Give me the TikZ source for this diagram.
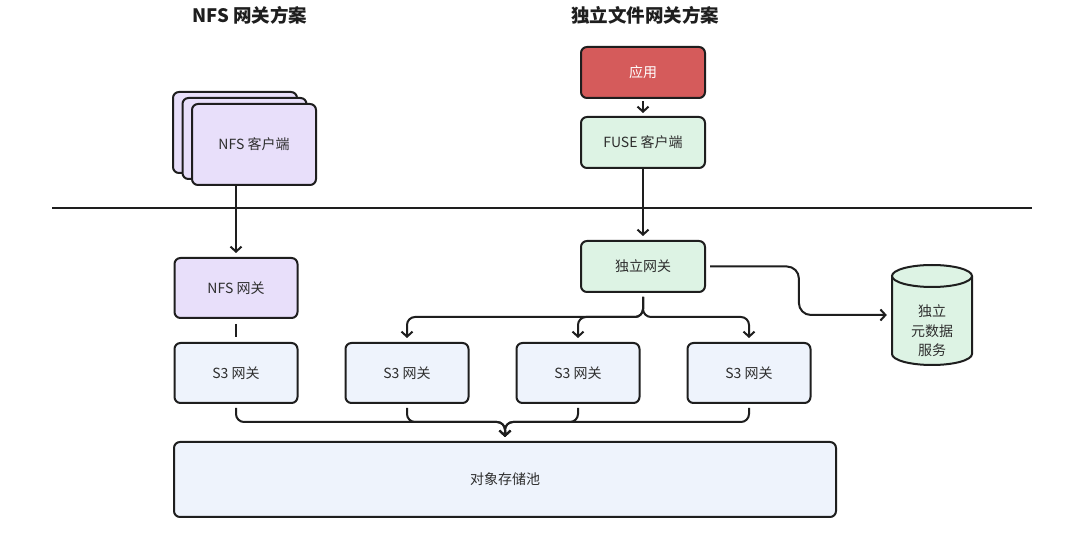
\documentclass[tikz,border=0pt]{standalone}
\usepackage{fontspec}
\setmainfont{Noto Sans CJK SC}
\usetikzlibrary{arrows.meta,calc}
\definecolor{ink}{HTML}{1E1E1E}
\definecolor{txt}{HTML}{2E2E2E}
\definecolor{lav}{HTML}{E8DFFA}
\definecolor{mint}{HTML}{DDF3E4}
\definecolor{sky}{HTML}{EEF3FC}
\definecolor{redbox}{HTML}{D55B5B}
\tikzset{
  box/.style={draw=ink, line width=2pt, rounded corners=6pt, inner sep=0pt,
    minimum width=123pt, minimum height=60pt, text=txt, font=\fontsize{14}{16}\selectfont},
  lavbox/.style={box, fill=lav},
  mintbox/.style={box, fill=mint, minimum width=124pt, minimum height=51pt},
  skybox/.style={box, fill=sky},
  rednode/.style={box, fill=redbox, text=white, minimum width=124pt, minimum height=51pt},
  conn/.style={draw=ink, line width=2pt, rounded corners=8pt},
  arr/.style={-{Straight Barb[length=5pt,width=11pt,line width=2pt]}},
  title/.style={font=\fontsize{18.5}{20}\selectfont\bfseries, text=ink},
}
\begin{document}
\begin{tikzpicture}[x=1pt,y=-1pt]
\useasboundingbox (0,0) rectangle (1080,534);
\fill[white] (0,0) rectangle (1080,534);

% titles
\node[title] (t1) at (250,15) {NFS 网关方案};
\node[title] (t2) at (645,15) {独立文件网关方案};

% separator
\coordinate (sepL) at (52,208);
\coordinate (sepR) at (1032,208);
\draw[ink, line width=1.6pt] (sepL) -- (sepR);

% NFS client stack
\node[lavbox, minimum width=124pt, minimum height=81pt] (nfsc3) at (235,132.5) {};
\node[lavbox, minimum width=124pt, minimum height=81pt] (nfsc2) at (244.5,138.5) {};
\node[lavbox, minimum width=124pt, minimum height=81pt] (nfsc1) at (254,144.5) {NFS 客户端};

% NFS gateway and S3 gateways
\node[lavbox] (nfsgw) at (236,288) {NFS 网关};
\node[skybox] (s3a) at (236,373) {S3 网关};
\node[skybox] (s3b) at (407,373) {S3 网关};
\node[skybox] (s3c) at (578,373) {S3 网关};
\node[skybox] (s3d) at (749,373) {S3 网关};

% object pool
\node[skybox, minimum width=662pt, minimum height=75pt] (pool) at (505,479.5) {对象存储池};

% right column
\node[rednode] (app) at (643,72.5) {应用};
\node[mintbox] (fuse) at (643,142.5) {FUSE 客户端};
\node[mintbox] (igw) at (643,266.5) {独立网关};

% metadata cylinder
\node[inner sep=0pt, minimum width=80pt, minimum height=100pt] (meta) at (932,315) {};
\draw[ink, line width=2pt, fill=mint]
  (892,276) -- (892,354) arc[start angle=180, end angle=0, x radius=40, y radius=11] -- (972,276);
\draw[ink, line width=2pt, fill=mint] (932,276) ellipse[x radius=40, y radius=11];
\node[align=center, text=txt, font=\fontsize{14}{19.5}\selectfont] (metatext) at (932,331) {独立\\元数据\\服务};

% connectors
\coordinate (fy) at (643,317);
\coordinate (my) at (505,422);

\draw[conn, arr, shorten >=4pt] (nfsc1.south -| nfsgw.north) -- (nfsgw.north);
\draw[conn, shorten <=5pt, shorten >=5pt] (nfsgw.south) -- (s3a.north);

\draw[conn, arr, shorten <=2pt, shorten >=3pt] (app.south) -- (fuse.north);
\draw[conn, arr, shorten >=4pt] (fuse.south) -- (igw.north);

\draw[conn, arr, rounded corners=12pt, shorten <=4pt, shorten >=5pt]
  (igw.east) -| ($(igw.east)!0.5!(meta.west)$) |- (meta.west);

\draw[conn, arr, shorten <=4pt, shorten >=4pt] (igw.south) |- (s3b.north |- fy) -- (s3b.north);
\draw[conn, arr, shorten <=4pt, shorten >=4pt] (igw.south) |- (s3c.north |- fy) -- (s3c.north);
\draw[conn, arr, shorten <=4pt, shorten >=4pt] (igw.south) |- (s3d.north |- fy) -- (s3d.north);

\draw[conn, arr, shorten <=4pt, shorten >=4pt] (s3a.south) |- (pool.north |- my) -- (pool.north);
\draw[conn, arr, shorten <=4pt, shorten >=4pt] (s3b.south) |- (pool.north |- my) -- (pool.north);
\draw[conn, arr, shorten <=4pt, shorten >=4pt] (s3c.south) |- (pool.north |- my) -- (pool.north);
\draw[conn, arr, shorten <=4pt, shorten >=4pt] (s3d.south) |- (pool.north |- my) -- (pool.north);
\end{tikzpicture}
\end{document}
